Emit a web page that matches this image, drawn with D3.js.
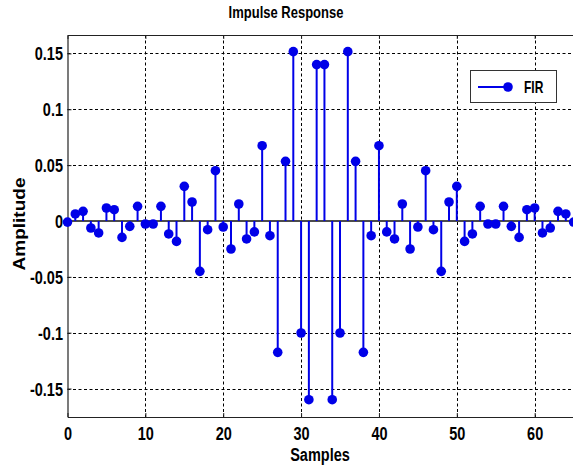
<!DOCTYPE html>
<html>
<head>
<meta charset="utf-8">
<script src="https://cdn.jsdelivr.net/npm/d3@7/dist/d3.min.js"></script>
<style>
  html, body { margin: 0; padding: 0; background: #fff; }
  svg { display: block; }
  text { font-family: "Liberation Sans", Arial, sans-serif; font-weight: bold; fill: #000; }
</style>
</head>
<body>
<svg id="chart" width="573" height="465"></svg>
<script>
// ---- data ----
const title = "Impulse Response";
const xLabel = "Samples";
const yLabel = "Amplitude";
const seriesName = "FIR";
const samples = d3.range(0, 66);
const firValues = [
  -0.001, 0.0063, 0.0086, -0.0063, -0.0107, 0.0116, 0.0101, -0.0147, -0.0048, 0.0131,
  -0.0027, -0.0027, 0.0131, -0.0116, -0.0183, 0.031, 0.017, -0.0451, -0.0078, 0.045,
  -0.0054, -0.0251, 0.0152, -0.0161, -0.0098, 0.0674, -0.0132, -0.1176, 0.0534, 0.1516,
  -0.1003, -0.16, 0.140, 0.140, -0.16, -0.1003, 0.1516, 0.0534, -0.1176, -0.0132,
  0.0674, -0.0098, -0.0161, 0.0152, -0.0251, -0.0054, 0.045, -0.0078, -0.0451, 0.017,
  0.031, -0.0183, -0.0116, 0.0131, -0.0027, -0.0027, 0.0131, -0.0048, -0.0147, 0.0101,
  0.0116, -0.0107, -0.0063, 0.0086, 0.0063, -0.001
];
const xTicks = [0, 10, 20, 30, 40, 50, 60];
const xTickLabels = ["0", "10", "20", "30", "40", "50", "60"];
const yTicks = [0.15, 0.1, 0.05, 0, -0.05, -0.1, -0.15];
const yTickLabels = ["0.15", "0.1", "0.05", "0", "-0.05", "-0.1", "-0.15"];
const xDomain = [0, 65];
const yDomain = [-0.1755, 0.1665];

// ---- layout ----
const plot = { left: 67.5, right: 573.6, top: 35, bottom: 417 };
const blue = "#0000e8";
const svg = d3.select("#chart");

const x = d3.scaleLinear().domain(xDomain).range([plot.left, plot.right]);
const y = d3.scaleLinear().domain(yDomain).range([plot.bottom, plot.top]);

// grid
const grid = svg.append("g").attr("stroke", "#000").attr("stroke-width", 1)
  .attr("stroke-dasharray", "3,2.5").attr("fill", "none");
grid.selectAll("line.gx").data(xTicks.filter(d => d > xDomain[0] && d < xDomain[1]))
  .join("line").attr("class", "gx")
  .attr("x1", d => Math.round(x(d)) + 0.5).attr("x2", d => Math.round(x(d)) + 0.5)
  .attr("y1", plot.top).attr("y2", plot.bottom);
grid.selectAll("line.gy").data(yTicks.filter(d => d !== 0))
  .join("line").attr("class", "gy")
  .attr("y1", d => Math.round(y(d)) + 0.5).attr("y2", d => Math.round(y(d)) + 0.5)
  .attr("x1", plot.left).attr("x2", plot.right);

// axes (inward ticks)
const xAxis = svg.append("g").attr("transform", `translate(0,${plot.bottom})`)
  .call(d3.axisBottom(x).tickValues(xTicks).tickSize(-4).tickSizeOuter(0)
    .tickFormat((d, i) => xTickLabels[i]));
const xAxisTop = svg.append("g").attr("transform", `translate(0,${plot.top})`)
  .call(d3.axisTop(x).tickValues(xTicks).tickSize(-4).tickSizeOuter(0).tickFormat(""));
const yAxis = svg.append("g").attr("transform", `translate(${plot.left},0)`)
  .call(d3.axisLeft(y).tickValues(yTicks).tickSize(-4).tickSizeOuter(0)
    .tickFormat((d, i) => yTickLabels[i]));
[xAxis, xAxisTop, yAxis].forEach(g => {
  g.select(".domain").attr("stroke", "#222").attr("stroke-width", 1.2);
  g.selectAll(".tick line").attr("stroke", "#222");
});
xAxis.selectAll(".tick text")
  .attr("y", null).attr("dy", null)
  .attr("font-size", 14.5).attr("text-anchor", "middle")
  .attr("transform", "translate(0,23) scale(1,1.25)");
yAxis.selectAll(".tick text")
  .attr("x", null).attr("dy", null)
  .attr("font-size", 14.5).attr("text-anchor", "end")
  .attr("transform", "translate(-4.5,6.5) scale(1,1.25)");

// baseline at 0
svg.append("line")
  .attr("x1", plot.left).attr("x2", plot.right)
  .attr("y1", y(0)).attr("y2", y(0))
  .attr("stroke", "#111").attr("stroke-width", 1.5);

// stems
const data = samples.map((s, i) => ({ s, v: firValues[i] }));
svg.append("g").selectAll("line").data(data).join("line")
  .attr("x1", d => x(d.s)).attr("x2", d => x(d.s))
  .attr("y1", y(0)).attr("y2", d => y(d.v))
  .attr("stroke", blue).attr("stroke-width", 2);
svg.append("g").selectAll("circle").data(data).join("circle")
  .attr("cx", d => x(d.s)).attr("cy", d => y(d.v)).attr("r", 4.8)
  .attr("fill", blue);

// title and labels
svg.append("text").text(title)
  .attr("font-size", 13).attr("text-anchor", "middle")
  .attr("transform", "translate(286,18.3) scale(1,1.25)");
svg.append("text").text(xLabel)
  .attr("font-size", 14.5).attr("text-anchor", "middle")
  .attr("transform", "translate(320,461) scale(1,1.25)");
svg.append("text").text(yLabel)
  .attr("font-size", 17).attr("text-anchor", "middle")
  .attr("transform", "translate(24.5,224) rotate(-90) scale(1.12,1)");

// legend
const lg = svg.append("g");
lg.append("rect").attr("x", 470.5).attr("y", 70.5).attr("width", 86).attr("height", 32)
  .attr("fill", "#fff").attr("stroke", "#333").attr("stroke-width", 1);
lg.append("line").attr("x1", 478).attr("x2", 508).attr("y1", 87).attr("y2", 87)
  .attr("stroke", blue).attr("stroke-width", 2);
lg.append("circle").attr("cx", 508).attr("cy", 87).attr("r", 4.8).attr("fill", blue);
lg.append("text").text(seriesName).attr("font-size", 12).attr("text-anchor", "start")
  .attr("transform", "translate(524,93.3) scale(1,1.35)");
</script>
</body>
</html>
